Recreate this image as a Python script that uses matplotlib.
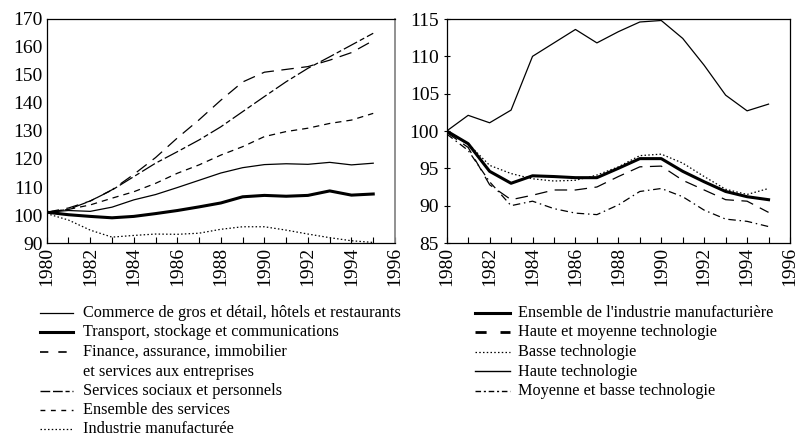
import matplotlib
matplotlib.use("Agg")
import matplotlib.pyplot as plt
from matplotlib.lines import Line2D

plt.rcParams['font.family'] = ['Liberation Serif', 'DejaVu Serif']

years = list(range(1980, 1996))

# Left panel: services
commerce = [101.0, 101.6, 101.3, 102.8, 105.4, 107.3, 109.8, 112.4, 115.0, 116.9, 118.0, 118.3, 118.1, 118.8, 117.9, 118.5]
transport = [101.0, 100.1, 99.5, 99.0, 99.5, 100.5, 101.6, 102.9, 104.3, 106.5, 107.0, 106.7, 107.0, 108.6, 107.1, 107.5]
finance = [101.0, 102.5, 105.0, 109.0, 114.5, 120.5, 127.5, 134.0, 141.0, 147.5, 151.0, 152.0, 153.0, 155.3, 158.0, 162.3]
sociaux = [101.0, 102.0, 105.0, 108.9, 113.7, 118.5, 122.6, 126.8, 131.5, 136.9, 142.3, 147.6, 152.4, 156.5, 160.7, 164.9]
ens_services = [101.0, 102.0, 103.6, 106.0, 108.3, 111.3, 114.9, 117.9, 121.4, 124.4, 128.0, 129.8, 131.0, 132.7, 133.9, 136.3]
industrie = [100.5, 98.2, 94.6, 92.1, 92.7, 93.2, 93.1, 93.5, 94.9, 95.8, 95.8, 94.6, 93.2, 91.9, 90.8, 90.2]

# Right panel: manufacturing by technology level
ens_manuf = [100.0, 98.3, 94.6, 93.0, 94.0, 93.9, 93.75, 93.75, 95.0, 96.3, 96.3, 94.6, 93.2, 91.9, 91.2, 90.8]
haute_moy = [99.8, 97.8, 92.8, 90.8, 91.4, 92.1, 92.1, 92.5, 93.9, 95.2, 95.3, 93.4, 92.1, 90.8, 90.6, 89.1]
basse = [100.0, 98.3, 95.4, 94.3, 93.6, 93.3, 93.4, 94.1, 95.2, 96.7, 96.9, 95.7, 93.9, 92.2, 91.5, 92.3]
haute = [100.0, 102.1, 101.1, 102.8, 110.0, 111.8, 113.6, 111.8, 113.3, 114.6, 114.8, 112.4, 108.8, 104.8, 102.7, 103.6]
moy_basse = [99.6, 97.4, 93.2, 90.0, 90.6, 89.6, 89.0, 88.8, 90.1, 91.9, 92.3, 91.2, 89.4, 88.2, 87.9, 87.2]

left_labels = ["Commerce de gros et détail, hôtels et restaurants",
               "Transport, stockage et communications",
               "Finance, assurance, immobilier\net services aux entreprises",
               "Services sociaux et personnels",
               "Ensemble des services",
               "Industrie manufacturée"]
right_labels = ["Ensemble de l'industrie manufacturière",
                "Haute et moyenne technologie",
                "Basse technologie",
                "Haute technologie",
                "Moyenne et basse technologie"]

W, H = 798, 445
fig = plt.figure(figsize=(W / 100, H / 100), dpi=100)

def fx(px):
    return px / W

def fy(py):
    return 1 - py / H

axL = fig.add_axes([fx(46.7), fy(243), fx(395) - fx(46.7), fy(19) - fy(243)])
axR = fig.add_axes([fx(446.7), fy(243), fx(790) - fx(446.7), fy(19) - fy(243)])

styles_L = [
    dict(color='black', lw=0.9, ls='-'),
    dict(color='black', lw=2.2, ls='-'),
    dict(color='black', lw=0.9, ls=(0, (10, 6))),
    dict(color='black', lw=0.9, ls=(0, (12, 2.5, 4, 2.5))),
    dict(color='black', lw=0.9, ls=(0, (5, 4))),
    dict(color='black', lw=0.9, ls=(0, (1.2, 1.8))),
]
series_L = [commerce, transport, finance, sociaux, ens_services, industrie]
for s, st in zip(series_L, styles_L):
    axL.plot(years, s, **st)

styles_R = [
    dict(color='black', lw=2.2, ls='-'),
    dict(color='black', lw=0.9, ls=(0, (10, 6))),
    dict(color='black', lw=0.9, ls=(0, (1.2, 1.8))),
    dict(color='black', lw=0.9, ls='-'),
    dict(color='black', lw=0.9, ls=(0, (6, 3, 1.2, 3))),
]
series_R = [ens_manuf, haute_moy, basse, haute, moy_basse]
for s, st in zip(series_R, styles_R):
    axR.plot(years, s, **st)

for ax in (axL, axR):
    ax.set_xlim(1980, 1996)
    ax.set_xticks(range(1980, 1997))
    ax.set_xticklabels([str(y) if y % 2 == 0 else '' for y in range(1980, 1997)],
                       rotation=90, fontsize=14)
    ax.tick_params(axis='x', direction='in', length=4, width=0.8, pad=3)
    ax.tick_params(axis='y', labelsize=14)
    for sp in ax.spines.values():
        sp.set_linewidth(0.9)
        sp.set_color('black')

axL.set_ylim(90, 170)
axL.set_yticks(range(90, 171, 10))
axL.tick_params(axis='y', length=0, pad=3)
axL.spines['right'].set_color('#888888')
axL.spines['right'].set_linewidth(1.3)

axR.set_ylim(85, 115)
axR.set_yticks(range(85, 116, 5))
axR.tick_params(axis='y', direction='inout', length=5, width=0.8, pad=3)

# Legends drawn manually in figure coordinates
rows = [313, 332.5, 352, 371.5, 391, 410, 429]
left_rows = [rows[0], rows[1], rows[2], rows[4], rows[5], rows[6]]
left_leg_styles = [
    dict(color='black', lw=0.9, ls='-'),
    dict(color='black', lw=2.2, ls='-'),
    dict(color='black', lw=1.2, ls=(0, (5, 6))),
    dict(color='black', lw=1.0, ls=(0, (7, 2, 7, 2, 3, 2))),
    dict(color='black', lw=1.0, ls=(0, (3.5, 4))),
    dict(color='black', lw=0.9, ls=(0, (1.2, 1.8))),
]
FS = 11.7
for y, st, lab in zip(left_rows, left_leg_styles, left_labels):
    fig.add_artist(Line2D([fx(40), fx(73)], [fy(y - 0.5), fy(y - 0.5)],
                          transform=fig.transFigure, **st))
    lines = lab.split("\n")
    for i, t in enumerate(lines):
        fig.text(fx(83), fy(y + i * 19.5), t, fontsize=FS,
                 ha='left', va='center')

right_rows = rows[:5]
right_leg_styles = [
    dict(color='black', lw=2.2, ls='-'),
    dict(color='black', lw=2.0, ls=(0, (4, 5))),
    dict(color='black', lw=0.9, ls=(0, (1.2, 1.8))),
    dict(color='black', lw=1.0, ls='-'),
    dict(color='black', lw=1.0, ls=(0, (4, 2, 1.5, 2))),
]
for y, st, lab in zip(right_rows, right_leg_styles, right_labels):
    fig.add_artist(Line2D([fx(475), fx(510)], [fy(y - 0.5), fy(y - 0.5)],
                          transform=fig.transFigure, **st))
    fig.text(fx(518), fy(y), lab, fontsize=FS, ha='left', va='center')

fig.savefig("out.png", dpi=100)
